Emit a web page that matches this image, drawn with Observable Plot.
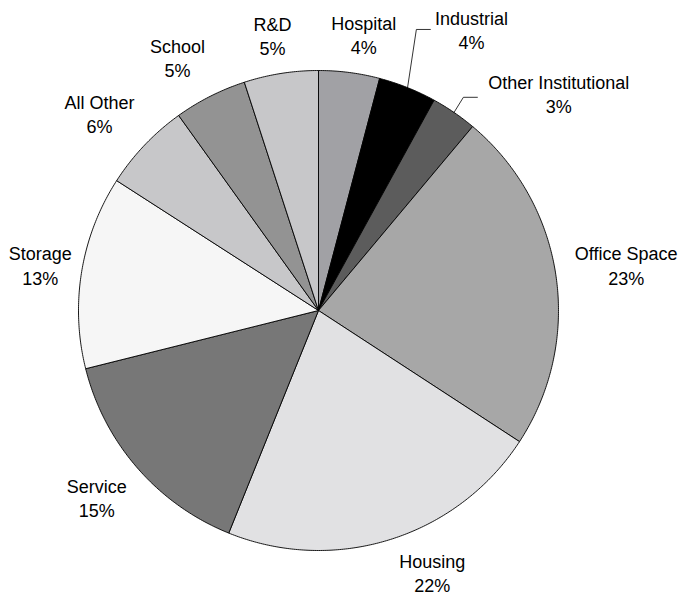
<!DOCTYPE html>
<html>
<head>
<meta charset="utf-8">
<script src="https://cdn.jsdelivr.net/npm/d3@7"></script>
<script src="https://cdn.jsdelivr.net/npm/@observablehq/plot@0.6"></script>
<style>
  html, body { margin: 0; padding: 0; background: #fff; }
  #chart { width: 687px; height: 598px; }
</style>
</head>
<body>
<div id="chart"></div>
<script>
// ---- data (clockwise from 12 o'clock) ----
const categories = ["Hospital", "Industrial", "Other Institutional", "Office Space", "Housing",
                    "Service", "Storage", "All Other", "School", "R&D"];
const shares = [4.1, 3.9, 3.1, 23.1, 21.9, 15.0, 13.0, 6.0, 4.9, 5.0];
const percentLabels = ["4%", "4%", "3%", "23%", "22%", "15%", "13%", "6%", "5%", "5%"];
const sliceFills = ["#a1a1a5", "#000000", "#5c5c5c", "#a7a7a7", "#e1e1e3",
                    "#777777", "#f6f6f6", "#c7c7c9", "#939393", "#c7c7c9"];

// ---- layout only: label angle nudge (deg) and radius (in pie radii) ----
const labelAngleNudge = [1.9, 6.8, 13.5, 0, -6, 0.9, 0, -1.5, -2.3, -0.5];
const labelRadius = [1.167, 1.333, 1.35, 1.296, 1.19, 1.208, 1.175, 1.229, 1.208, 1.163];
// leader elbows (polar: deg, radii) for the small slices that have them
const leaders = {"Industrial": [19.2, 1.24], "Other Institutional": [34.2, 1.074]};

const total = d3.sum(shares);
const rad = (deg) => deg * Math.PI / 180;
const px = (deg, r) => r * Math.sin(rad(deg));
const py = (deg, r) => r * Math.cos(rad(deg));

// build slice polygons
let acc = 0;
const slices = categories.map((name, i) => {
  const a0 = acc / total * 360;
  acc += shares[i];
  const a1 = acc / total * 360;
  return {name, i, a0, a1, mid: (a0 + a1) / 2};
});

const polyPoints = [];
for (const s of slices) {
  polyPoints.push({name: s.name, fill: sliceFills[s.i], x: 0, y: 0});
  const n = Math.max(2, Math.ceil((s.a1 - s.a0) / 0.5));
  for (let k = 0; k <= n; k++) {
    const a = s.a0 + (s.a1 - s.a0) * k / n;
    polyPoints.push({name: s.name, fill: sliceFills[s.i], x: px(a, 1), y: py(a, 1)});
  }
  polyPoints.push({name: s.name, fill: sliceFills[s.i], x: 0, y: 0});
}

const labels = slices.map(s => {
  const a = s.mid + labelAngleNudge[s.i];
  const r = labelRadius[s.i];
  return {text: `${s.name}\n${percentLabels[s.i]}`, x: px(a, r), y: py(a, r)};
});

const leaderPoints = [];
for (const s of slices) {
  const L = leaders[s.name];
  if (!L) continue;
  const ex = px(L[0], L[1]), ey = py(L[0], L[1]);
  leaderPoints.push({name: s.name, x: px(s.mid, 1), y: py(s.mid, 1)});
  leaderPoints.push({name: s.name, x: ex, y: ey});
  leaderPoints.push({name: s.name, x: ex + 14 / 240, y: ey});
}

const R = 240, cx = 318, cy = 310;
const chart = Plot.plot({
  width: 687,
  height: 598,
  x: {domain: [-1, 1], range: [cx - R, cx + R], axis: null},
  y: {domain: [-1, 1], range: [cy + R, cy - R], axis: null},
  color: {type: "identity"},
  style: {fontFamily: "'Liberation Sans', Arial, Helvetica, sans-serif", background: "#fff", overflow: "visible"},
  marks: [
    Plot.line(polyPoints, {x: "x", y: "y", z: "name", fill: "fill", stroke: "#000",
                           strokeWidth: 0.9, strokeLinejoin: "round", curve: "linear"}),
    Plot.line(leaderPoints, {x: "x", y: "y", z: "name", stroke: "#000", strokeWidth: 0.8}),
    Plot.text(labels, {x: "x", y: "y", text: "text", fontSize: 18, lineHeight: 1.35,
                       textAnchor: "middle", lineAnchor: "middle", fill: "#000"})
  ]
});
document.getElementById("chart").appendChild(chart);
</script>
</body>
</html>
